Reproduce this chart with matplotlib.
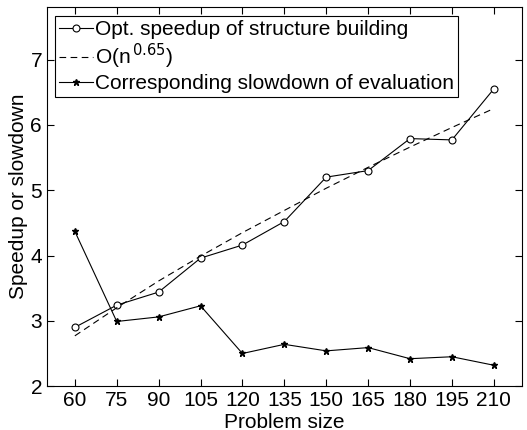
import matplotlib.pyplot as plt

plt.rcParams['font.family'] = ['Liberation Sans', 'DejaVu Sans']

# problem sizes and measured values
sizes = [60, 75, 90, 105, 120, 135, 150, 165, 180, 195, 210]
speedup = [2.90, 3.24, 3.44, 3.96, 4.16, 4.52, 5.20, 5.30, 5.79, 5.77, 6.55]
fit = [2.77, 3.20, 3.61, 3.99, 4.35, 4.69, 5.03, 5.35, 5.66, 5.96, 6.25]
slowdown = [4.37, 2.99, 3.06, 3.23, 2.50, 2.64, 2.54, 2.59, 2.42, 2.45, 2.32]

fig = plt.figure(figsize=(5.27, 4.30), dpi=100)
ax = fig.add_axes([0.089, 0.102, 0.901, 0.881])

ax.plot(sizes, speedup, color='black', lw=0.8, marker='o', ms=5,
        mfc='white', mec='black', mew=0.8, label='Opt. speedup of structure building')
ax.plot(sizes, fit, color='black', lw=0.8, ls=(0, (6, 4)), label=r'O(n$^{\,0.65}$)')
ax.plot(sizes, slowdown, color='black', lw=0.8, marker='*', ms=4.5,
        mec='black', label='Corresponding slowdown of evaluation')

ax.set_xlim(50, 220)
ax.set_ylim(2, 7.8)
ax.set_xticks(sizes)
ax.set_yticks([2, 3, 4, 5, 6, 7])
ax.tick_params(direction='in', top=True, right=True, labelsize=15, length=5, width=0.8)
for s in ax.spines.values():
    s.set_linewidth(0.8)

ax.set_xlabel('Problem size', fontsize=15, labelpad=2)
ax.set_ylabel('Speedup or slowdown', fontsize=15, labelpad=2)

leg = ax.legend(loc='upper left', fontsize=15, handlelength=1.6, handletextpad=0.1,
                borderpad=0.2, labelspacing=0.15, borderaxespad=0.4, fancybox=False,
                framealpha=1, edgecolor='black')
leg.get_frame().set_linewidth(0.8)

fig.savefig('out.png', dpi=100)
